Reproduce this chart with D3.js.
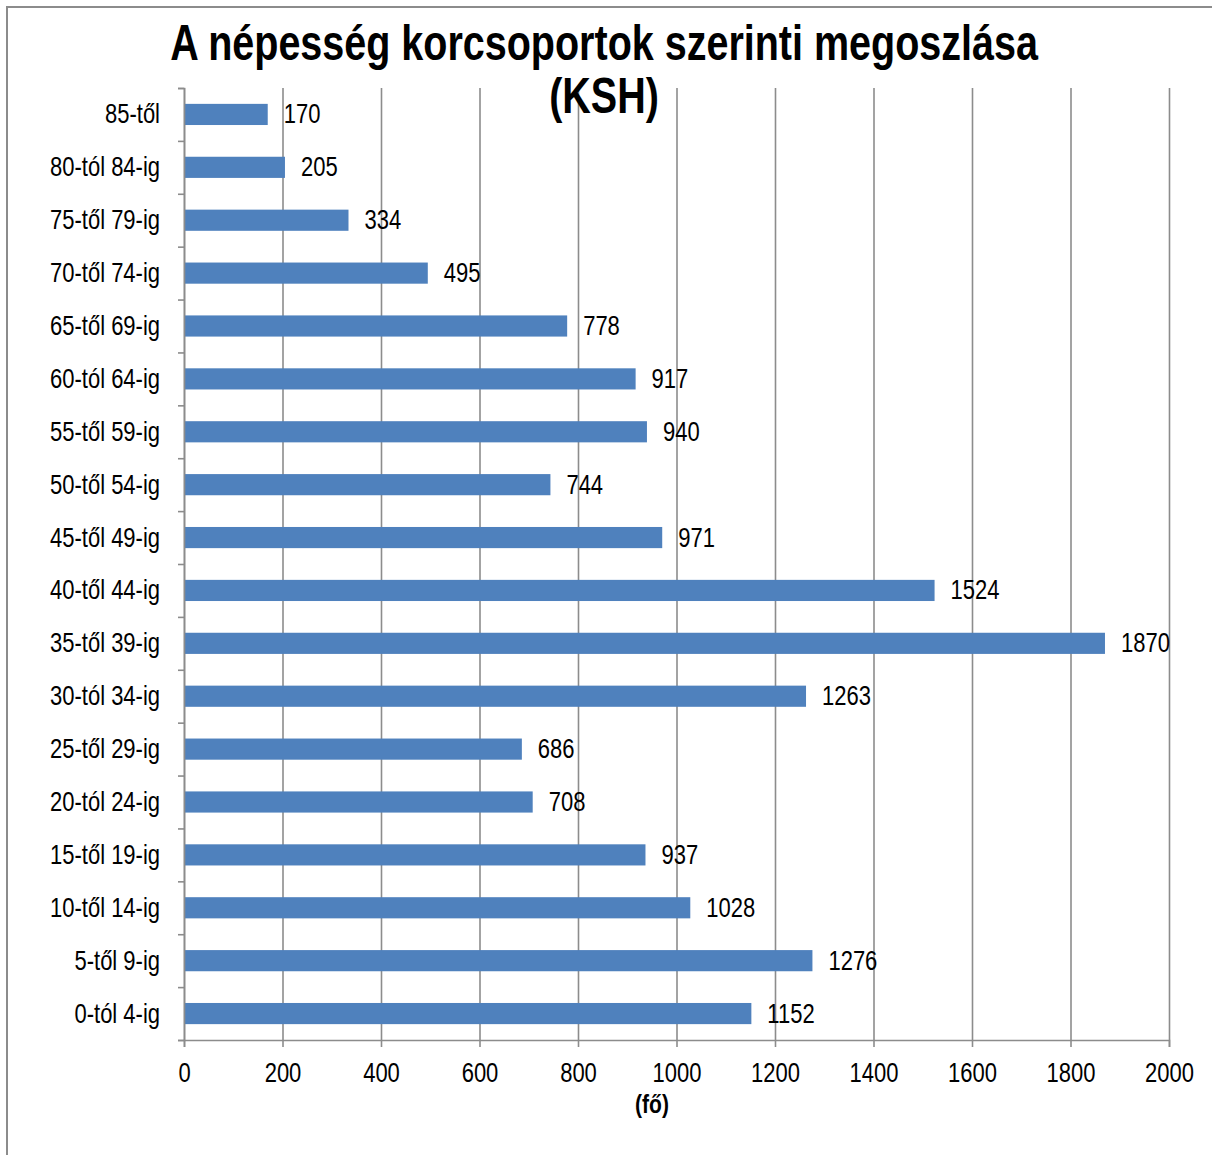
<!DOCTYPE html>
<html>
<head>
<meta charset="utf-8">
<script src="https://cdn.jsdelivr.net/npm/d3@7"></script>
<style>
  html, body { margin: 0; padding: 0; background: #fff; }
  svg { display: block; }
  text { font-family: "Liberation Sans", Arial, sans-serif; fill: #000; }
</style>
</head>
<body>
<svg id="chart" width="1212" height="1155"></svg>
<script>
// korcsoportok (alulról felfelé)
const categories = [
  '0-tól 4-ig', '5-től 9-ig', '10-től 14-ig', '15-től 19-ig', '20-tól 24-ig',
  '25-től 29-ig', '30-tól 34-ig', '35-től 39-ig', '40-től 44-ig', '45-től 49-ig',
  '50-től 54-ig', '55-től 59-ig', '60-tól 64-ig', '65-től 69-ig', '70-től 74-ig',
  '75-től 79-ig', '80-tól 84-ig', '85-től'
];
const values = [
  1152, 1276, 1028, 937, 708, 686, 1263, 1870, 1524, 971,
  744, 940, 917, 778, 495, 334, 205, 170
];
const xTicks = [0, 200, 400, 600, 800, 1000, 1200, 1400, 1600, 1800, 2000];
const titleLines = ['A népesség korcsoportok szerinti megoszlása', '(KSH)'];
const xTitle = '(fő)';

const W = 1212, H = 1155;
const plot = { left: 184, right: 1169, top: 88, bottom: 1040 };
// a kép függőlegesen nyújtott, ezért a szövegeket is nyújtjuk
const SY = 1.27;
const GRID = '#8c8c8c';

const svg = d3.select('#chart');

// külső keret
svg.append('path')
  .attr('d', `M7,${H} V7 H${W}`)
  .attr('fill', 'none')
  .attr('stroke', GRID)
  .attr('stroke-width', 2);

const x = d3.scaleLinear().domain([0, 2000]).range([plot.left, plot.right]);
const y = d3.scaleBand()
  .domain(categories.slice().reverse())
  .range([plot.top, plot.bottom])
  .paddingInner(0.6)
  .paddingOuter(0.3);
// sávhatárok a bal tengely osztásaihoz
const yEdge = d3.scaleLinear().domain([0, categories.length]).range([plot.bottom, plot.top]);

// rácsvonalak
svg.append('g')
  .attr('transform', `translate(0,${plot.bottom})`)
  .call(d3.axisBottom(x).tickValues(xTicks).tickSize(-(plot.bottom - plot.top)).tickFormat(''))
  .call(g => g.select('.domain').remove())
  .call(g => g.selectAll('line').attr('stroke', GRID).attr('stroke-width', 1.6));

// oszlopok
svg.append('g')
  .selectAll('rect')
  .data(values)
  .join('rect')
  .attr('x', x(0) + 1)
  .attr('y', (d, i) => y(categories[i]))
  .attr('width', d => x(d) - x(0) - 1)
  .attr('height', y.bandwidth())
  .attr('fill', '#4f81bd');

// értékcímkék
svg.append('g')
  .selectAll('g')
  .data(values)
  .join('g')
  .attr('transform', (d, i) => `translate(${x(d) + 16},${y(categories[i]) + y.bandwidth() / 2})`)
  .append('text')
  .attr('transform', `scale(1,${SY})`)
  .attr('y', 7.1)
  .attr('font-size', 22)
  .text(d => d);

// bal tengely: osztások a sávhatárokon
svg.append('g')
  .attr('transform', `translate(${plot.left},0)`)
  .call(d3.axisLeft(yEdge).tickValues(d3.range(categories.length + 1)).tickSize(6).tickFormat(''))
  .call(g => g.selectAll('line, path').attr('stroke', GRID).attr('stroke-width', 1.6));

// bal tengely: kategórianevek
svg.append('g')
  .attr('transform', `translate(${plot.left},0)`)
  .call(d3.axisLeft(y).tickSize(0).tickPadding(24))
  .call(g => g.select('.domain').remove())
  .call(g => g.selectAll('text')
    .attr('font-size', 22)
    .attr('font-family', '"Liberation Sans", Arial, sans-serif')
    .attr('dy', 0)
    .attr('y', 7.1)
    .attr('transform', `scale(1,${SY})`));

// alsó tengely
svg.append('g')
  .attr('transform', `translate(0,${plot.bottom})`)
  .call(d3.axisBottom(x).tickValues(xTicks).tickSize(7).tickFormat(d3.format('d')))
  .call(g => g.selectAll('line, path').attr('stroke', GRID).attr('stroke-width', 1.6))
  .call(g => g.selectAll('text')
    .attr('font-size', 22)
    .attr('font-family', '"Liberation Sans", Arial, sans-serif')
    .attr('dy', 0)
    .attr('y', 42 / SY)
    .attr('transform', `scale(1,${SY})`));

// cím
svg.append('g')
  .selectAll('text')
  .data(titleLines)
  .join('text')
  .attr('transform', (d, i) => `translate(604,${i === 0 ? 60 : 113}) scale(1,1.25)`)
  .attr('text-anchor', 'middle')
  .attr('font-size', 39.5)
  .attr('font-weight', 'bold')
  .text(d => d);

// tengelycím
svg.append('text')
  .attr('transform', `translate(652,1113) scale(1,${SY})`)
  .attr('text-anchor', 'middle')
  .attr('font-size', 21)
  .attr('font-weight', 'bold')
  .text(xTitle);
</script>
</body>
</html>
